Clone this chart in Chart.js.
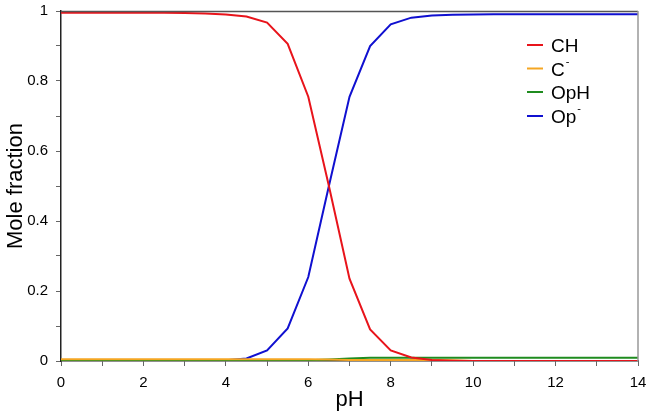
<!DOCTYPE html>
<html>
<head>
  <title>Mole fraction vs pH</title>
  <script src="https://cdn.jsdelivr.net/npm/chart.js@4.4.0/dist/chart.umd.min.js"></script>
  <style>
    body { margin: 0; background: #fff; }
    #wrap { width: 648px; height: 418px; }
  </style>
</head>
<body>
  <div id="wrap"><canvas id="speciesChart"></canvas></div>
  <script>
    // pH values at which the fractions were computed
    const ph = [0, 0.5, 1, 1.5, 2, 2.5, 3, 3.5, 4, 4.5, 5, 5.5, 6, 6.5, 7, 7.5, 8, 8.5, 9, 9.5, 10, 10.5, 11, 11.5, 12, 12.5, 13, 13.5, 14];

    const chValues  = [0.995, 0.995, 0.995, 0.995, 0.995, 0.995, 0.994, 0.993, 0.99, 0.984, 0.967, 0.906, 0.755, 0.5, 0.235, 0.09, 0.03, 0.01, 0.003, 0.001, 0, 0, 0, 0, 0, 0, 0, 0, 0];
    const cmValues  = [0.005, 0.005, 0.005, 0.005, 0.005, 0.005, 0.005, 0.005, 0.005, 0.005, 0.005, 0.005, 0.005, 0.004, 0.003, 0.003, 0.003, 0.003, 0.003, 0.002, 0, 0, 0, 0, 0, 0, 0, 0, 0];
    const ophValues = [0, 0, 0, 0, 0, 0, 0, 0, 0, 0, 0, 0, 0.002, 0.004, 0.007, 0.009, 0.009, 0.009, 0.009, 0.009, 0.009, 0.009, 0.009, 0.009, 0.009, 0.009, 0.009, 0.009, 0.009];
    const opmValues = [0, 0, 0, 0, 0, 0, 0, 0, 0.002, 0.007, 0.03, 0.093, 0.24, 0.5, 0.755, 0.9, 0.962, 0.981, 0.987, 0.989, 0.99, 0.991, 0.991, 0.991, 0.991, 0.991, 0.991, 0.991, 0.991];

    const seriesNames = ['CH', 'C-', 'OpH', 'Op-'];
    const seriesColors = ['#e8141b', '#f5a623', '#1f8c1f', '#1010d0'];

    const xTickLabels = ['0', '2', '4', '6', '8', '10', '12', '14'];
    const yTickLabels = ['0', '0.2', '0.4', '0.6', '0.8', '1'];

    const FONT = '"Liberation Sans", Arial, sans-serif';

    function toPoints(values) {
      return values.map((v, i) => ({ x: ph[i], y: v }));
    }

    const allValues = [chValues, cmValues, ophValues, opmValues];

    const frame = {
      id: 'frame',
      afterDatasetsDraw(chart) {
        const { ctx, chartArea: a } = chart;
        ctx.save();
        ctx.lineWidth = 1.5;
        ctx.strokeStyle = '#555';
        ctx.beginPath();
        ctx.moveTo(a.left, a.top + 0.5);
        ctx.lineTo(a.right, a.top + 0.5);
        ctx.stroke();
        ctx.strokeStyle = '#999';
        ctx.beginPath();
        ctx.moveTo(a.right, a.top);
        ctx.lineTo(a.right, a.bottom);
        ctx.stroke();

        // legend inside the plot
        const rows = [45, 68.5, 92, 116];
        ctx.textBaseline = 'middle';
        ctx.textAlign = 'left';
        seriesNames.forEach((name, i) => {
          const y = rows[i];
          ctx.strokeStyle = seriesColors[i];
          ctx.lineWidth = 2;
          ctx.beginPath();
          ctx.moveTo(527, y);
          ctx.lineTo(543, y);
          ctx.stroke();
          ctx.fillStyle = '#000';
          let base = name;
          let sup = false;
          if (name.endsWith('-')) { base = name.slice(0, -1); sup = true; }
          ctx.font = '19px ' + FONT;
          ctx.fillText(base, 551, y + 2);
          if (sup) {
            const w = ctx.measureText(base).width;
            ctx.font = '11px ' + FONT;
            ctx.fillText('-', 551 + w + 1, y - 7);
          }
        });
        ctx.restore();
      }
    };

    const ctx = document.getElementById('speciesChart').getContext('2d');
    new Chart(ctx, {
      type: 'line',
      data: {
        datasets: seriesNames.map((name, i) => ({
          label: name,
          data: toPoints(allValues[i]),
          borderColor: seriesColors[i],
          backgroundColor: seriesColors[i],
          borderWidth: 2,
          pointRadius: 0,
          tension: 0
        }))
      },
      options: {
        responsive: true,
        maintainAspectRatio: false,
        animation: false,
        layout: { padding: { top: 11, right: 10, left: 0, bottom: 0 } },
        plugins: { legend: { display: false }, tooltip: { enabled: false } },
        scales: {
          x: {
            type: 'linear',
            min: 0,
            max: 14,
            afterFit(s) { s.height = 57; s.paddingLeft = 0; s.paddingRight = 0; },
            afterBuildTicks(s) {
              s.ticks = [];
              for (let v = 0; v <= 14; v++) s.ticks.push({ value: v });
            },
            ticks: {
              autoSkip: false,
              maxRotation: 0,
              color: '#000',
              padding: 8,
              font: { family: FONT, size: 15 },
              callback: v => (v % 2 === 0 ? xTickLabels[v / 2] : '')
            },
            grid: { drawOnChartArea: false, tickLength: 5, color: '#666', tickColor: '#666' },
            border: { color: '#222', width: 1.5 },
            title: {
              display: true,
              text: 'pH',
              color: '#000',
              padding: { top: 0, bottom: 5 },
              font: { family: FONT, size: 22 }
            }
          },
          y: {
            min: 0,
            max: 1,
            afterFit(s) { s.width = 61; s.paddingTop = 0; s.paddingBottom = 0; },
            afterBuildTicks(s) {
              s.ticks = [];
              for (let k = 0; k <= 10; k++) s.ticks.push({ value: k / 10 });
            },
            ticks: {
              autoSkip: false,
              color: '#000',
              padding: 8,
              font: { family: FONT, size: 15 },
              callback: (v, idx) => (idx % 2 === 0 ? yTickLabels[idx / 2] : '')
            },
            grid: { drawOnChartArea: false, tickLength: 5, color: '#666', tickColor: '#666' },
            border: { color: '#222', width: 1.5 },
            title: {
              display: true,
              text: 'Mole fraction',
              color: '#000',
              padding: { top: 3, bottom: 0 },
              font: { family: FONT, size: 22 }
            }
          }
        }
      },
      plugins: [frame]
    });
  </script>
</body>
</html>
